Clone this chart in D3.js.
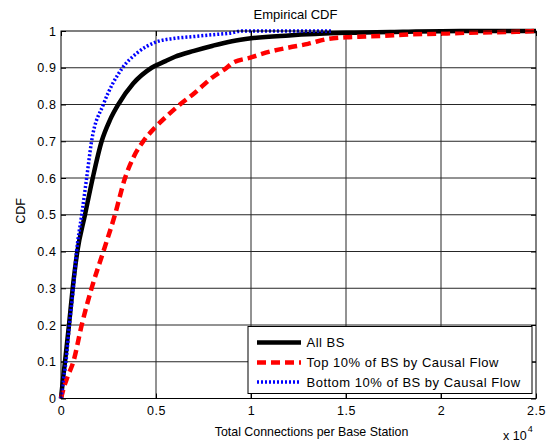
<!DOCTYPE html>
<html><head><meta charset="utf-8">
<script src="https://cdn.jsdelivr.net/npm/d3@7"></script>
<style>body{margin:0;background:#fff}svg{display:block;font-family:"Liberation Sans",Arial,sans-serif}</style>
</head><body><svg id="c" width="549" height="443"></svg>
<script>
// Data (x in connections, y = CDF)
const allBS = [[0,0],[100,0.05],[210,0.1],[420,0.2],[615,0.3],[860,0.4],[1263,0.5],[1670,0.6],[2140,0.7],[2580,0.758],[3015,0.8],[3800,0.857],[4770,0.9],[5500,0.918],[6000,0.93],[7000,0.946],[8000,0.96],[9000,0.972],[10000,0.98],[12000,0.988],[15000,0.995],[18000,0.998],[21000,1],[25000,1]];
const top10 = [[0,0],[150,0.03],[350,0.06],[650,0.1],[1090,0.2],[1610,0.3],[2230,0.4],[2840,0.5],[3370,0.6],[3850,0.66],[4330,0.7],[5000,0.74],[5600,0.77],[6260,0.8],[7000,0.83],[8000,0.875],[8720,0.9],[9000,0.912],[10000,0.928],[11000,0.944],[12000,0.955],[13000,0.965],[14000,0.978],[15000,0.983],[16000,0.985],[17000,0.987],[18000,0.99],[20000,0.993],[22000,0.996],[24000,0.998],[25000,1]];
const bottom10 = [[0,0],[120,0.05],[260,0.1],[440,0.2],[650,0.3],[820,0.4],[1090,0.5],[1350,0.6],[1610,0.7],[2230,0.8],[3240,0.9],[4000,0.94],[5000,0.97],[6000,0.98],[7000,0.985],[8000,0.99],[9000,0.995],[9500,1],[14300,1]];
const xTicks = [0,5000,10000,15000,20000,25000];
const xTickLabels = ["0","0.5","1","1.5","2","2.5"];
const yTicks = [0,0.1,0.2,0.3,0.4,0.5,0.6,0.7,0.8,0.9,1];
const yTickLabels = ["0","0.1","0.2","0.3","0.4","0.5","0.6","0.7","0.8","0.9","1"];
const seriesNames = ["All BS","Top 10% of BS by Causal Flow","Bottom 10% of BS by Causal Flow"];

const svg = d3.select("#c");
const L=61, R=536, T=31, B=398.5;
const x = d3.scaleLinear().domain([0,25000]).range([L,R]);
const y = d3.scaleLinear().domain([0,1]).range([B,T]);

// grid
const g = svg.append("g");
g.selectAll(".gx").data(xTicks.slice(1,-1)).enter().append("line")
 .attr("x1",d=>x(d)).attr("x2",d=>x(d)).attr("y1",T).attr("y2",B)
 .attr("stroke","#262626").attr("stroke-width",1);
g.selectAll(".gy").data(yTicks.slice(1,-1)).enter().append("line")
 .attr("y1",d=>y(d)).attr("y2",d=>y(d)).attr("x1",L).attr("x2",R)
 .attr("stroke","#262626").attr("stroke-width",1);

// axes
const xAxis = d3.axisBottom(x).tickValues(xTicks).tickFormat((d,i)=>xTickLabels[i]).tickSize(-5).tickPadding(8);
const yAxis = d3.axisLeft(y).tickValues(yTicks).tickFormat((d,i)=>yTickLabels[i]).tickSize(-5).tickPadding(4.5);
const ax = svg.append("g").attr("transform",`translate(0,${B})`).call(xAxis);
const ay = svg.append("g").attr("transform",`translate(${L},0)`).call(yAxis);
[ax,ay].forEach(a=>{a.select(".domain").remove();a.selectAll("text").attr("font-size",12.5).attr("letter-spacing",0.6).attr("fill","#000").attr("font-family","Liberation Sans, Arial, sans-serif");a.selectAll("line").attr("stroke","#000");});
// top/right ticks
svg.append("g").attr("transform",`translate(0,${T})`).call(d3.axisTop(x).tickValues(xTicks).tickSize(-5).tickFormat("")).call(a=>{a.select(".domain").remove();a.selectAll("line").attr("stroke","#000");});
svg.append("g").attr("transform",`translate(${R},0)`).call(d3.axisRight(y).tickValues(yTicks).tickSize(-5).tickFormat("")).call(a=>{a.select(".domain").remove();a.selectAll("line").attr("stroke","#000");});

// lines
const line = d3.line().x(d=>x(d[0])).y(d=>y(d[1])).curve(d3.curveMonotoneX);
const clip = svg.append("clipPath").attr("id","cp").append("rect").attr("x",L-3).attr("y",T-3).attr("width",R-L+3).attr("height",B-T+6);
const lg = svg.append("g").attr("clip-path","url(#cp)");
lg.append("path").datum(allBS).attr("d",line).attr("fill","none").attr("stroke","#000").attr("stroke-width",4.5);
lg.append("path").datum(top10).attr("d",line).attr("fill","none").attr("stroke","#ff0000").attr("stroke-width",4.5).attr("stroke-dasharray","9,5");
lg.append("path").datum(bottom10).attr("d",line).attr("fill","none").attr("stroke","#0000ff").attr("stroke-width",3.5).attr("stroke-dasharray","2,2");

// frame
svg.append("rect").attr("x",L).attr("y",T).attr("width",R-L).attr("height",B-T).attr("fill","none").attr("stroke","#000").attr("stroke-width",1);

// title & labels
svg.append("text").attr("x",295.5).attr("y",19).attr("text-anchor","middle").attr("font-size",13).text("Empirical CDF");
svg.append("text").attr("x",311.5).attr("y",436).attr("text-anchor","middle").attr("font-size",12.4).text("Total Connections per Base Station");
svg.append("text").attr("transform",`translate(25,211) rotate(-90)`).attr("text-anchor","middle").attr("font-size",12.5).text("CDF");
const ex = svg.append("text").attr("x",503).attr("y",439.5).attr("font-size",12.5);
ex.append("tspan").text("x 10");
ex.append("tspan").attr("dy",-8).attr("dx",1).attr("font-size",9).text("4");

// legend
const lgX=248, lgY=326.5, lgW=284, lgH=67;
const leg = svg.append("g");
leg.append("rect").attr("x",lgX).attr("y",lgY).attr("width",lgW).attr("height",lgH).attr("fill","#fff").attr("stroke","#000").attr("stroke-width",1);
const styles=[{c:"#000",w:4.5,d:null},{c:"#ff0000",w:4.5,d:"9,5"},{c:"#0000ff",w:3.5,d:"2,2"}];
const rowsY=[342.5,362.5,382];
seriesNames.forEach((n,i)=>{
  leg.append("line").attr("x1",257).attr("x2",301).attr("y1",rowsY[i]).attr("y2",rowsY[i]).attr("stroke",styles[i].c).attr("stroke-width",styles[i].w).attr("stroke-dasharray",styles[i].d);
  leg.append("text").attr("x",306.5).attr("y",rowsY[i]+4.8).attr("font-size",13).attr("letter-spacing",0.5).text(n);
});
</script></body></html>
